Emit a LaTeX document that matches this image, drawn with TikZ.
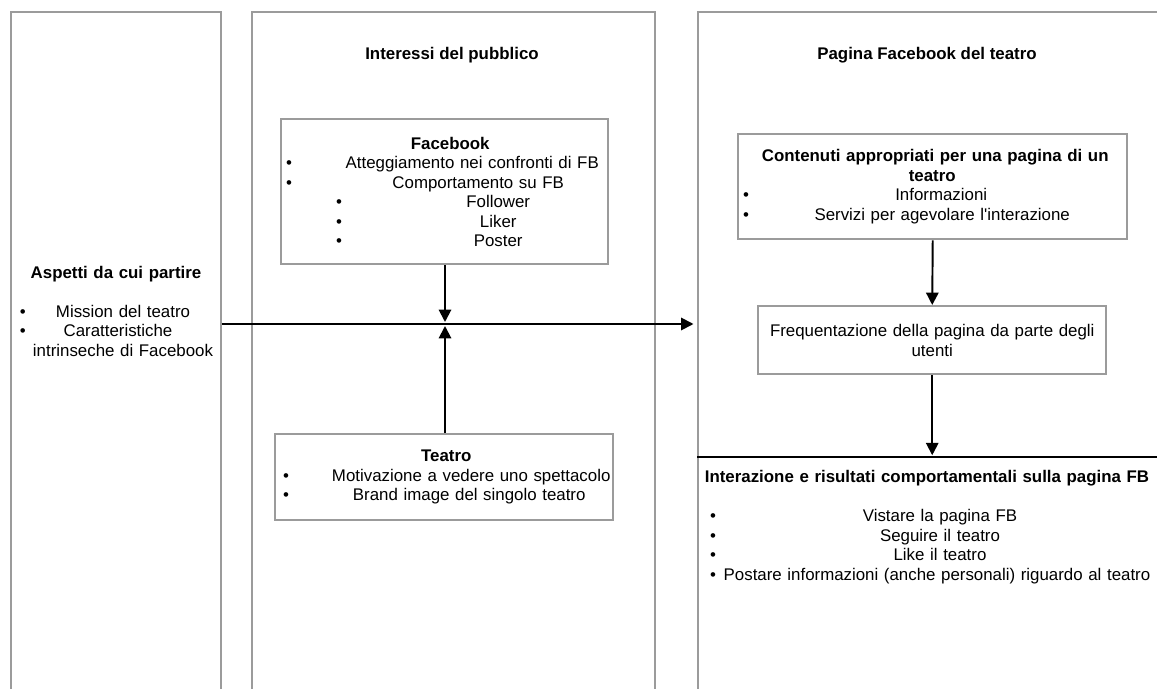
\documentclass[tikz,border=0pt]{standalone}
\usepackage{fontspec}
\setmainfont{Liberation Sans}
\usetikzlibrary{arrows.meta}
\definecolor{panelgray}{RGB}{155,155,155}
\newdimen\px \px=0.02cm
% one line of a list: bullet at #1, text centred at #2 (px from the left)
\newcommand{\bline}[3]{\makebox[\linewidth][l]{\rlap{\hspace*{#1\px}\textbullet}\hspace*{#2\px}\makebox[0pt]{#3}}}
\newcommand{\tline}[2]{\makebox[\linewidth][l]{\hspace*{#1\px}\makebox[0pt]{#2}}}

\begin{document}
\begin{tikzpicture}[x=0.02cm,y=-0.02cm,
  panel/.style={draw=panelgray,line width=1.1pt,inner sep=0pt,anchor=north west},
  box/.style={draw=panelgray,line width=1.4pt,inner sep=0pt,anchor=north west},
  txt/.style={inner sep=0pt,font=\fontsize{9.6pt}{11.1pt}\selectfont,align=center},
  ttl/.style={txt,font=\fontsize{9.6pt}{11.1pt}\selectfont\bfseries},
  conn/.style={line width=1.1pt,-{Triangle[length=7pt,width=7pt]}}]
\useasboundingbox (0,0) rectangle (1157,689);
\clip (0,0) rectangle (1157,689);

% the three columns
\node[panel,minimum width=210\px,minimum height=720\px] (aspetti) at (10,11) {};
\node[panel,minimum width=403\px,minimum height=720\px] (interessi) at (251,11) {};
\node[panel,minimum width=480\px,minimum height=720\px] (pagina) at (697,11) {};

\node[ttl] (interessititle) at (452,55) {Interessi del pubblico};
\node[ttl] (paginatitle) at (927,55) {Pagina Facebook del teatro};

\node[txt,text width=210\px] (aspettitxt) at (115,311) {%
\tline{106}{\textbf{Aspetti da cui partire}}\\
\tline{0}{}\\
\bline{10}{113}{Mission del teatro}\\
\bline{10}{108}{Caratteristiche}\\
\tline{113}{intrinseche di Facebook}};

\node[box,txt,text width=327\px,minimum height=145\px] (facebook) at (280,118) {%
\tline{169}{\textbf{Facebook}}\\
\bline{5}{191}{Atteggiamento nei confronti di FB}\\
\bline{5}{197}{Comportamento su FB}\\
\bline{55}{217}{Follower}\\
\bline{55}{217}{Liker}\\
\bline{55}{217}{Poster}};

\node[box,txt,text width=338\px,minimum height=86\px] (teatro) at (274,433) {%
\tline{171}{\textbf{Teatro}}\\
\bline{8}{196}{Motivazione a vedere uno spettacolo}\\
\bline{8}{194}{Brand image del singolo teatro}};

\node[box,txt,text width=389\px,minimum height=105\px] (contenuti) at (737,133) {%
\tline{197}{\textbf{Contenuti appropriati per una pagina di un}}\\
\tline{194}{\textbf{teatro}}\\
\bline{5}{203}{Informazioni}\\
\bline{5}{204}{Servizi per agevolare l\textquotesingle interazione}};

\node[box,txt,text width=348\px,minimum height=68\px] (frequenta) at (757,305) {%
Frequentazione della pagina da parte degli\\utenti};

\node[txt,text width=460\px] (interazione) at (927,527) {%
\tline{230}{\textbf{Interazione e risultati comportamentali sulla pagina FB}}\\
\tline{0}{}\\
\bline{13}{243}{Vistare la pagina FB}\\
\bline{13}{243}{Seguire il teatro}\\
\bline{13}{243}{Like il teatro}\\
\bline{13}{240}{Postare informazioni (anche personali) riguardo al teatro}};

\coordinate (hub) at (445,324);
\coordinate (hubN) at (445,322);
\coordinate (hubS) at (445,326);
\coordinate (divY) at (0,457);

\draw[conn,shorten >=2pt] (aspetti.east |- hub) -- (pagina.west |- hub);
\draw[conn] (facebook.south -| hub) -- (hubN);
\draw[conn] (teatro.north -| hub) -- (hubS);
\draw[conn] (contenuti.south) -- (frequenta.north);
\draw[conn,shorten >=1pt] (frequenta.south) -- (frequenta.south |- divY);
\draw[line width=1.4pt] (pagina.west |- divY) -- (pagina.east |- divY);
\end{tikzpicture}
\end{document}
